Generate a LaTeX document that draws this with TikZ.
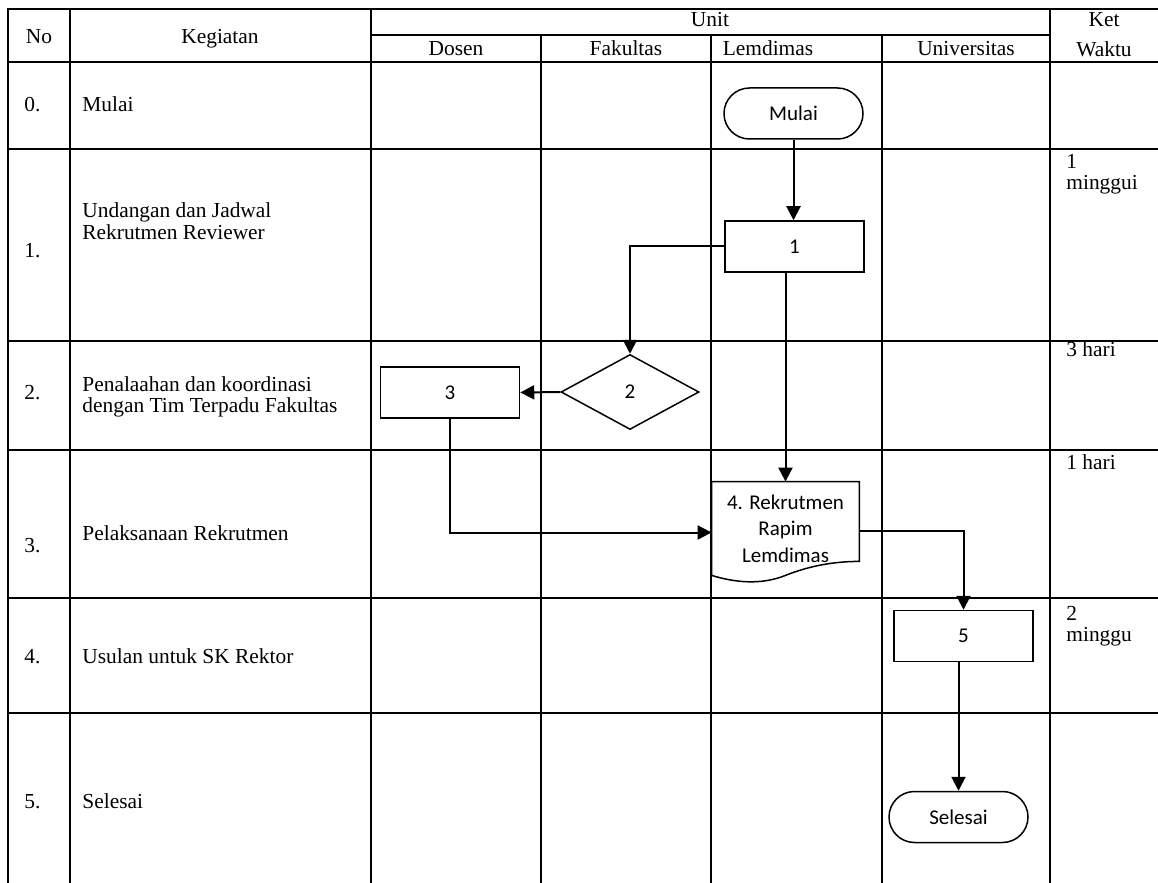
\documentclass[tikz,border=0pt]{standalone}
\usepackage{fontspec}
\setmainfont{Liberation Serif}
\newfontfamily\calibri{Carlito}
\usepackage{tikz}
\usetikzlibrary{shapes.geometric, arrows.meta}
\usepackage{xcolor}

\tikzset{
    grid/.style={line width=1pt, line cap=rect},
    tabtext/.style={font=\fontsize{10.7}{11}\selectfont, inner sep=0pt},
    shapeline/.style={line width=0.75pt},
    procbox/.style={draw, shapeline, rectangle, minimum width=69.5pt, minimum height=25.5pt,
        inner sep=0pt, font=\calibri\fontsize{10.5}{13}\selectfont},
    terminal/.style={procbox, rounded corners=12.75pt},
    decision/.style={draw, shapeline, diamond, minimum width=69pt, minimum height=37.5pt,
        inner sep=0pt, font=\calibri\fontsize{10.5}{13}\selectfont},
    flow/.style={line width=1pt, -{Triangle[length=7pt, width=7pt]}}
}

\begin{document}
\begin{tikzpicture}[x=0.5pt, y=-0.5pt]

    \useasboundingbox (0,0) rectangle (1158,883);

    % Table lines
    \draw[grid] (8,9) -- (1158,9);
    \draw[grid] (371,35) -- (1050,35);
    \foreach \y in {62, 149, 341, 450, 598, 713} {
        \draw[grid] (8,\y) -- (1158,\y);
    }
    \foreach \x in {8, 70, 371, 1050} {
        \draw[grid] (\x,9) -- (\x,883);
    }
    \foreach \x in {541, 711, 882} {
        \draw[grid] (\x,35) -- (\x,883);
    }

    % Header
    \node[tabtext, anchor=base] (hNo) at (39,44) {No};
    \node[tabtext, anchor=base] (hKeg) at (220,44) {Kegiatan};
    \node[tabtext, anchor=base] (hUnit) at (710,27) {Unit};
    \node[tabtext, anchor=base] (hDosen) at (456,56) {Dosen};
    \node[tabtext, anchor=base] (hFak) at (626,56) {Fakultas};
    \node[tabtext, anchor=base] (hLem) at (768,56) {Lemdimas};
    \node[tabtext, anchor=base] (hUniv) at (966,56) {Universitas};
    \node[tabtext, anchor=base] (hKet) at (1104,27) {Ket};
    \node[tabtext, anchor=base] (hWaktu) at (1104,57) {Waktu};

    % Row numbers
    \foreach \n/\y in {0/112, 1/257, 2/399, 3/552, 4/663, 5/808} {
        \node[tabtext, anchor=base west] (n\n) at (24,\y) {\n.};
    }

    % Kegiatan
    \node[tabtext, anchor=base west] (k0) at (82,112) {Mulai};
    \node[tabtext, anchor=base west] (k1a) at (82,218) {Undangan dan Jadwal};
    \node[tabtext, anchor=base west] (k1b) at (82,240) {Rekrutmen Reviewer};
    \node[tabtext, anchor=base west] (k2a) at (82,391) {Penalaahan dan koordinasi};
    \node[tabtext, anchor=base west] (k2b) at (82,412) {dengan Tim Terpadu Fakultas};
    \node[tabtext, anchor=base west] (k3) at (82,540) {Pelaksanaan Rekrutmen};
    \node[tabtext, anchor=base west] (k4) at (82,663) {Usulan untuk SK Rektor};
    \node[tabtext, anchor=base west] (k5) at (82,808) {Selesai};

    % Ket waktu
    \node[tabtext, anchor=base west] (w1a) at (1066,169) {1};
    \node[tabtext, anchor=base west] (w1b) at (1066,190) {minggui};
    \node[tabtext, anchor=base west] (w2) at (1066,357) {3 hari};
    \node[tabtext, anchor=base west] (w3) at (1066,469) {1 hari};
    \node[tabtext, anchor=base west] (w4a) at (1066,620) {2};
    \node[tabtext, anchor=base west] (w4b) at (1066,641) {minggu};

    % Flow shapes
    \node[terminal] (mulai) at (793.5,113.5) {Mulai};
    \node[procbox] (p1) at (794.5,246.5) {1};
    \node[decision] (d2) at (630,392) {2};
    \node[procbox] (p3) at (450,392.5) {3};
    \node[minimum width=73.5pt, minimum height=46.5pt, inner sep=0pt, align=center,
        font=\calibri\fontsize{10.5}{13.25}\selectfont] (doc4) at (785.5,528.5)
        {4. Rekrutmen\\Rapim\\Lemdimas};
    \draw[shapeline] (doc4.south west) .. controls +(23,7) and +(-25,10) .. (doc4.south)
        .. controls +(25,-10) and +(-24,0) .. ([yshift=7pt]doc4.south east)
        -- (doc4.north east) -- (doc4.north west) -- cycle;
    \node[procbox] (p5) at (963.5,636) {5};
    \node[terminal] (selesai) at (958.5,817) {Selesai};

    % Connectors
    \draw[flow] (mulai.south) -- (mulai.south |- p1.north);
    \draw[flow] (p1.west) -| (d2.north);
    \draw[flow] (d2.west) -- (p3.east);
    \draw[flow] (p3.south) |- ([yshift=-2pt]doc4.west);
    \draw[flow] (doc4.north |- p1.south) -- (doc4.north);
    \draw[flow] ([yshift=-1pt]doc4.east) -| (p5.north);
    \draw[flow] (p5.south -| selesai.north) -- (selesai.north);

\end{tikzpicture}
\end{document}
